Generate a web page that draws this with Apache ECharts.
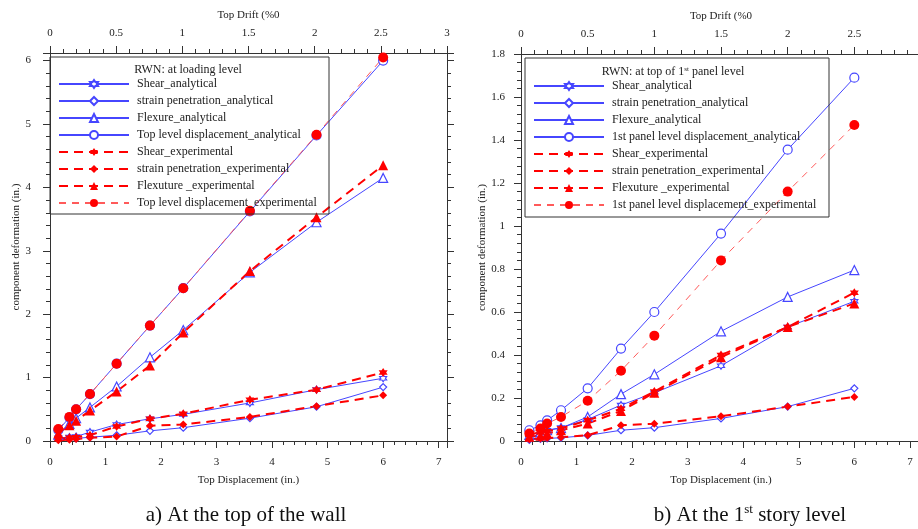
<!DOCTYPE html>
<html>
<head>
<meta charset="utf-8">
<script src="https://cdn.jsdelivr.net/npm/echarts@6/dist/echarts.min.js"></script>
<style>
  html, body { margin: 0; padding: 0; background: #fff; }
  #main { width: 918px; height: 529px; }
</style>
</head>
<body>
<div id="main"></div>
<script>
const chartDom = document.getElementById("main");
const myChart = echarts.init(chartDom);

// top displacement (in.) of each load step
const topDisp = [0.15, 0.35, 0.47, 0.72, 1.2, 1.8, 2.4, 3.6, 4.8, 6.0];

// a) at the top of the wall
const shearAnaA = [0.05, 0.06, 0.07, 0.14, 0.26, 0.35, 0.42, 0.6, 0.81, 0.99];
const strainAnaA = [0.03, 0.04, 0.04, 0.06, 0.09, 0.16, 0.21, 0.36, 0.54, 0.85];
const flexAnaA = [0.1, 0.27, 0.36, 0.53, 0.86, 1.32, 1.75, 2.66, 3.45, 4.15];
const topAnaA = [0.17, 0.37, 0.5, 0.74, 1.22, 1.82, 2.41, 3.62, 4.82, 6.0];
const shearExpA = [0.03, 0.05, 0.06, 0.09, 0.23, 0.35, 0.43, 0.65, 0.81, 1.08];
const strainExpA = [0.01, 0.02, 0.03, 0.05, 0.07, 0.24, 0.26, 0.38, 0.55, 0.72];
const flexExpA = [0.12, 0.25, 0.32, 0.48, 0.78, 1.19, 1.71, 2.68, 3.53, 4.35];
const topExpA = [0.19, 0.38, 0.5, 0.74, 1.22, 1.82, 2.41, 3.63, 4.83, 6.05];

// b) at the 1st story level
const shearAnaB = [0.03, 0.04, 0.05, 0.062, 0.1, 0.167, 0.224, 0.35, 0.53, 0.65];
const strainAnaB = [0.005, 0.01, 0.012, 0.015, 0.026, 0.05, 0.062, 0.105, 0.16, 0.245];
const flexAnaB = [0.028, 0.04, 0.05, 0.06, 0.112, 0.218, 0.31, 0.51, 0.67, 0.795];
const topAnaB = [0.05, 0.073, 0.096, 0.143, 0.245, 0.43, 0.6, 0.965, 1.355, 1.69];
const shearExpB = [0.03, 0.04, 0.045, 0.058, 0.096, 0.15, 0.23, 0.4, 0.53, 0.69];
const strainExpB = [0.008, 0.012, 0.014, 0.017, 0.027, 0.073, 0.08, 0.115, 0.16, 0.205];
const flexExpB = [0.02, 0.025, 0.035, 0.05, 0.081, 0.14, 0.224, 0.39, 0.53, 0.64];
const topExpB = [0.035, 0.058, 0.081, 0.112, 0.187, 0.327, 0.49, 0.84, 1.16, 1.47];

const FONT = "Liberation Serif";
const blue = "#4646ff";
const red = "#ff0000";
const star6 =
  "path://M0,-10L2.9,-5L8.7,-5L5.8,0L8.7,5L2.9,5L0,10L-2.9,5L-8.7,5L-5.8,0L-8.7,-5L-2.9,-5Z";

const pairs = (ys) => topDisp.map((x, i) => [x, ys[i]]);

function ana(name, ys, symbol, size, xi, yi) {
  return {
    name: name,
    type: "line",
    xAxisIndex: xi,
    yAxisIndex: yi,
    data: pairs(ys),
    symbol: symbol,
    symbolSize: size,
    color: blue,
    lineStyle: { color: blue, width: 1 },
    itemStyle: { color: "#fff", borderColor: blue, borderWidth: 1.2 },
  };
}

function exp(name, ys, symbol, size, xi, yi, thin) {
  return {
    name: name,
    type: "line",
    xAxisIndex: xi,
    yAxisIndex: yi,
    data: pairs(ys),
    symbol: symbol,
    symbolSize: size,
    color: red,
    lineStyle: thin
      ? { color: "#ff5a5a", width: 1, type: [7, 6] }
      : { color: red, width: 2, type: [9, 6] },
    itemStyle: { color: red },
  };
}

const axisStyle = {
  axisLine: { show: true, onZero: false, lineStyle: { color: "#333", width: 1 } },
  axisTick: { show: true, length: 7, lineStyle: { color: "#333" } },
  minorTick: { show: true, splitNumber: 5, length: 4, lineStyle: { color: "#333" } },
  splitLine: { show: false },
  nameTextStyle: { fontFamily: FONT, fontSize: 11, color: "#222" },
};
const lbl = { fontFamily: FONT, fontSize: 11, color: "#222" };

const namesA = [
  "Shear_analytical",
  "strain penetration_analytical",
  "Flexure_analytical",
  "Top level displacement_analytical",
  "Shear_experimental",
  "strain penetration_experimental",
  "Flexuture _experimental",
  "Top level displacement_experimental",
];
const namesB = [
  "Shear_analytical",
  "strain penetration_analytical",
  "Flexure_analytical",
  "1st panel level displacement_analytical",
  "Shear_experimental",
  "strain penetration_experimental",
  "Flexuture _experimental",
  "1st panel level displacement_experimental",
];

const legendBase = {
  orient: "vertical",
  itemWidth: 70,
  itemHeight: 10,
  itemGap: 5,
  selectedMode: false,
  textStyle: { fontFamily: FONT, fontSize: 12, color: "#222", lineHeight: 12, padding: [0, 0, 0, 3] },
};

let option = {
  animation: false,
  backgroundColor: "#fff",
  grid: [
    { left: 50, width: 397, top: 53, bottom: 88, outerBoundsMode: "none" },
    { left: 521, width: 400, top: 54, bottom: 88, outerBoundsMode: "none" },
  ],
  xAxis: [
    Object.assign({}, axisStyle, {
      gridIndex: 0, type: "value", position: "bottom", min: 0, max: 7.15, interval: 1,
      name: "Top Displacement (in.)", nameLocation: "middle", nameGap: 34,
      axisLabel: Object.assign({ margin: 16, showMaxLabel: false }, lbl),
    }),
    Object.assign({}, axisStyle, {
      gridIndex: 0, type: "value", position: "top", min: 0, max: 3, interval: 0.5,
      name: "Top Drift (%0", nameLocation: "middle", nameGap: 32,
      axisLabel: Object.assign({ margin: 14 }, lbl),
    }),
    Object.assign({}, axisStyle, {
      gridIndex: 1, type: "value", position: "bottom", min: 0, max: 7.2, interval: 1,
      name: "Top Displacement (in.)", nameLocation: "middle", nameGap: 34,
      axisLabel: Object.assign({ margin: 16, showMaxLabel: false }, lbl),
    }),
    Object.assign({}, axisStyle, {
      gridIndex: 1, type: "value", position: "top", min: 0, max: 3, interval: 0.5,
      name: "Top Drift (%0", nameLocation: "middle", nameGap: 32,
      axisLabel: Object.assign({ margin: 14 }, lbl),
    }),
  ],
  yAxis: [
    Object.assign({}, axisStyle, {
      gridIndex: 0, type: "value", position: "left", min: 0, max: 6.12, interval: 1,
      name: "component deformation (in.)", nameLocation: "middle", nameGap: 27,
      axisLabel: Object.assign({ margin: 19, showMaxLabel: false }, lbl),
    }),
    Object.assign({}, axisStyle, {
      gridIndex: 0, type: "value", position: "right", min: 0, max: 6.12, interval: 1,
      axisLabel: { show: false },
    }),
    Object.assign({}, axisStyle, {
      gridIndex: 1, type: "value", position: "left", min: 0, max: 1.8, interval: 0.2,
      name: "component deformation (in.)", nameLocation: "middle", nameGap: 30,
      axisLabel: Object.assign({ margin: 16 }, lbl),
    }),
  ],
  legend: [
    Object.assign({}, legendBase, { data: namesA, left: 53, top: 73 }),
    Object.assign({}, legendBase, { data: namesB, left: 528, top: 75 }),
  ],
  graphic: [
    { type: "rect", shape: { x: 50, y: 57, width: 279, height: 157 },
      style: { fill: "none", stroke: "#333", lineWidth: 1 }, z: 5 },
    { type: "rect", shape: { x: 525, y: 58, width: 304, height: 159 },
      style: { fill: "none", stroke: "#333", lineWidth: 1 }, z: 5 },
    { type: "text", x: 188, y: 70, z: 5,
      style: { text: "RWN: at loading level", font: "12px " + FONT, fill: "#222",
        textAlign: "center", textVerticalAlign: "middle" } },
    { type: "text", x: 673, y: 72, z: 5,
      style: { text: "{a|RWN: at top of 1}{s|st}{a| panel level}", fill: "#222",
        textAlign: "center", textVerticalAlign: "middle",
        rich: { a: { fontFamily: FONT, fontSize: 12, fill: "#222" },
                s: { fontFamily: FONT, fontSize: 7, fill: "#222", padding: [0, 0, 6, 0] } } } },
    { type: "text", x: 246, y: 515, z: 5,
      style: { text: "a) At the top of the wall", font: "21px " + FONT, fill: "#111",
        textAlign: "center", textVerticalAlign: "middle" } },
    { type: "text", x: 750, y: 515, z: 5,
      style: { text: "{a|b) At the 1}{s|st}{a| story level}", fill: "#111",
        textAlign: "center", textVerticalAlign: "middle",
        rich: { a: { fontFamily: FONT, fontSize: 21, fill: "#111" },
                s: { fontFamily: FONT, fontSize: 13, fill: "#111", padding: [0, 0, 10, 0] } } } },
  ],
  series: [
    ana(namesA[0], shearAnaA, star6, 7, 0, 0),
    ana(namesA[1], strainAnaA, "diamond", 7, 0, 0),
    ana(namesA[2], flexAnaA, "triangle", 9, 0, 0),
    ana(namesA[3], topAnaA, "circle", 9, 0, 0),
    exp(namesA[4], shearExpA, star6, 9, 0, 0),
    exp(namesA[5], strainExpA, "diamond", 8, 0, 0),
    exp(namesA[6], flexExpA, "triangle", 10, 0, 0),
    exp(namesA[7], topExpA, "circle", 10, 0, 0, true),
    ana(namesB[0], shearAnaB, star6, 7, 2, 2),
    ana(namesB[1], strainAnaB, "diamond", 7, 2, 2),
    ana(namesB[2], flexAnaB, "triangle", 9, 2, 2),
    ana(namesB[3], topAnaB, "circle", 9, 2, 2),
    exp(namesB[4], shearExpB, star6, 9, 2, 2),
    exp(namesB[5], strainExpB, "diamond", 8, 2, 2),
    exp(namesB[6], flexExpB, "triangle", 10, 2, 2),
    exp(namesB[7], topExpB, "circle", 10, 2, 2, true),
  ],
};

option && myChart.setOption(option);
</script>
</body>
</html>
